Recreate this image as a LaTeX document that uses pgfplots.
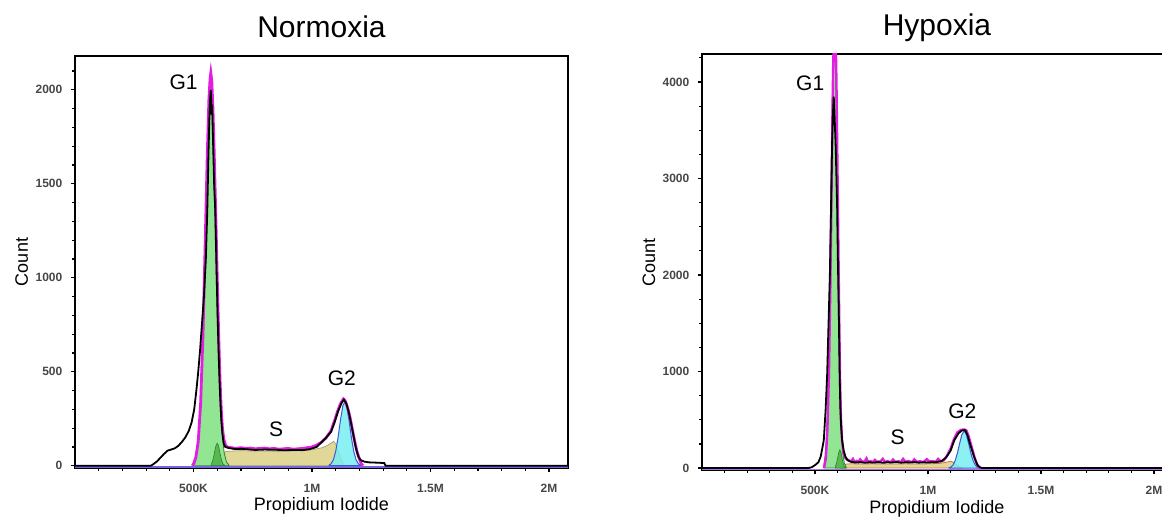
\documentclass[border=0pt]{standalone}
\usepackage{fontspec}
\setmainfont{Liberation Sans}
\usepackage{pgfplots}
\pgfplotsset{compat=1.18}

\definecolor{gfill}{RGB}{140,228,140}
\definecolor{gdraw}{RGB}{40,130,40}
\definecolor{dgfill}{RGB}{80,175,70}
\definecolor{sfill}{RGB}{222,212,140}
\definecolor{sdraw}{RGB}{200,120,60}
\definecolor{cfill}{RGB}{120,238,240}
\definecolor{cdraw}{RGB}{60,90,210}
\definecolor{mag}{RGB}{225,30,225}
\definecolor{baseL}{RGB}{115,100,230}
\definecolor{baseR}{RGB}{170,110,230}

\tikzset{pk/.style={font=\fontsize{10.5}{12}\selectfont}}
\pgfplotsset{
  flow/.style={
    scale only axis, axis line style={line width=1.1pt},
    tick align=outside, xtick pos=bottom, ytick pos=left,
    major tick length=2pt, minor tick length=1.4pt,
    every tick/.style={black,line width=0.6pt},
    xmin=0, xtick={500,1000,1500,2000}, xticklabels={500K,1M,1.5M,2M},
    minor xtick={100,200,300,400,600,700,800,900,1100,1200,1300,1400,1600,1700,1800,1900},
    ticklabel style={font=\fontsize{6}{7}\selectfont\bfseries, text=black!72},
    xticklabel style={yshift=-2.5pt},
    yticklabel style={xshift=-0.8pt},
    title style={at={(0.5,1)}, anchor=base, yshift=3pt, font=\fontsize{15}{18}\selectfont},
    xlabel style={at={(axis description cs:0.5,0)}, anchor=base, yshift=-21.5pt, font=\fontsize{9}{11}\selectfont},
    ylabel style={at={(axis description cs:0,0.5)}, anchor=base, yshift=23.5pt, font=\fontsize{9}{11}\selectfont},
    xlabel={Propidium Iodide}, ylabel={Count},
    every axis plot/.append style={sharp plot, no markers},
  },
}

\begin{document}
\begin{tikzpicture}
% Normoxia
\begin{axis}[flow, at={(0pt,0pt)}, width=246.5pt, height=206pt,
  xmax=2080, ymin=-12, ymax=2180,
  ytick={0,500,1000,1500,2000}, yticklabels={0,500,1000,1500,2000},
  minor ytick={100,200,300,400,600,700,800,900,1100,1200,1300,1400,1600,1700,1800,1900,2100},
  title={Normoxia}]
% S phase
\addplot[fill=sfill, fill opacity=0.9, draw=sfill!70!black, line width=0.3pt] coordinates {
(600,0) (615,30) (625,60) (635,76) (660,78) (700,80) (750,78) (800,78) (850,77) (900,78)
(950,80) (1000,85) (1040,95) (1060,105) (1080,120) (1092,130) (1100,115) (1110,80)
(1120,45) (1130,15) (1138,0)} \closedcycle;
% G1
\addplot[fill=gfill, fill opacity=0.95, draw=gdraw, line width=0.4pt] coordinates {
(505,20) (515,70) (525,209) (535,496) (545,960) (555,1513) (562,1840) (567,1988) (572,2040)
(577,1988) (582,1840) (589,1513) (599,960) (609,496) (619,209) (629,70) (639,20) (650,2)} \closedcycle;
% G1 doublet bump
\addplot[fill=dgfill, fill opacity=0.85, draw=gdraw, line width=0.3pt] coordinates {
(575,9) (580,23) (585,47) (590,80) (595,108) (600,120) (605,108) (610,80) (615,47)
(620,23) (625,9) (632,2)} \closedcycle;
% G2
\addplot[fill=cfill, fill opacity=0.85, draw=cdraw, line width=0.5pt] coordinates {
(1072,4) (1080,10) (1090,31) (1100,77) (1110,151) (1120,243) (1130,318) (1138,340)
(1146,318) (1156,243) (1166,151) (1176,77) (1186,31) (1196,10) (1204,4) (1210,1)} \closedcycle;
% fit baseline
\addplot[baseL, line width=0.8pt] coordinates {(0,-7) (2080,-7)};
% fit envelope
\addplot[mag, line width=1.4pt] coordinates {
(495,0) (502,15) (510,45) (520,130) (530,330) (540,700) (550,1220) (558,1650) (565,1950)
(570,2060) (573,2090) (577,2050) (582,1900) (587,1680) (592,1430) (597,1170) (602,900)
(607,660) (612,450) (617,300) (622,200) (628,140) (635,110) (645,98) (660,96) (680,92)
(700,96) (720,92) (740,94) (760,90) (780,92) (800,94) (820,90) (840,92) (860,88) (880,90)
(900,92) (920,88) (940,90) (960,92) (980,96) (1000,100) (1020,110) (1040,125) (1060,150)
(1080,185) (1095,240) (1108,290) (1120,330) (1132,355) (1140,345) (1150,310) (1160,260)
(1170,195) (1180,130) (1190,75) (1200,35) (1208,10) (1215,0)};
% raw histogram
\addplot[black, line width=0.9pt] coordinates {
(0,0) (320,0) (330,8) (345,22) (360,42) (375,62) (390,80) (405,86) (420,92) (435,105)
(450,125) (465,150) (480,185) (492,230) (503,300) (512,400) (520,500) (528,620) (536,760)
(544,900) (552,1100) (558,1350) (563,1650) (567,1850) (570,1950) (573,2000) (576,1890)
(579,1900) (583,1700) (587,1500) (592,1350) (597,1050) (602,780) (607,560) (612,380)
(617,250) (622,170) (627,120) (634,100) (650,94) (680,88) (700,90) (730,87) (760,84)
(800,86) (850,85) (880,82) (920,84) (960,83) (990,88) (1020,100) (1040,125) (1060,150)
(1080,180) (1095,230) (1110,290) (1125,335) (1135,352) (1145,330) (1155,285) (1165,225)
(1175,160) (1185,95) (1195,50) (1205,30) (1220,22) (1240,18) (1280,16) (1305,14) (1310,0)
(2080,0)};
\node[pk] at (axis cs:458,2040) {G1};
\node[pk] at (axis cs:849,192) {S};
\node[pk] at (axis cs:1126,468) {G2};
\end{axis}
% Hypoxia
\begin{axis}[flow, at={(313.5pt,-1.2pt)}, width=235pt, height=208.2pt,
  xmax=2080, ymin=-24, ymax=4290,
  ytick={0,1000,2000,3000,4000}, yticklabels={0,1000,2000,3000,4000},
  minor ytick={250,500,750,1250,1500,1750,2250,2500,2750,3250,3500,3750,4250},
  title={Hypoxia}]
% S phase
\addplot[fill=sfill, fill opacity=0.9, draw=sdraw, line width=0.4pt] coordinates {
(615,0) (625,25) (635,40) (660,45) (700,42) (750,44) (800,43) (850,42) (900,44) (950,42)
(1000,44) (1050,48) (1080,60) (1100,70) (1112,60) (1125,35) (1140,12) (1150,0)} \closedcycle;
% G1
\addplot[fill=gfill, fill opacity=0.95, draw=gdraw, line width=0.4pt] coordinates {
(540,50) (545,128) (550,296) (555,609) (560,1120) (565,1850) (570,2730) (575,3600)
(580,4257) (585,4500) (590,4257) (595,3600) (600,2730) (605,1850) (610,1120) (615,609)
(620,296) (625,128) (630,50) (638,10)} \closedcycle;
% G1 doublet bump
\addplot[fill=dgfill, fill opacity=0.85, draw=gdraw, line width=0.3pt] coordinates {
(590,16) (595,47) (600,102) (605,163) (610,190) (615,163) (620,102) (625,47) (630,16) (637,3)} \closedcycle;
% G2
\addplot[fill=cfill, fill opacity=0.85, draw=cdraw, line width=0.5pt] coordinates {
(1094,4) (1100,9) (1110,29) (1120,74) (1130,152) (1140,254) (1150,347) (1160,385)
(1170,347) (1180,254) (1190,152) (1200,74) (1210,29) (1220,9) (1226,4) (1232,0)} \closedcycle;
% fit baseline
\addplot[baseR, line width=0.8pt] coordinates {(0,-14) (2080,-14)};
% fit envelope
\addplot[mag, line width=1.2pt] coordinates {
(540,0) (548,100) (555,400) (562,1000) (568,1900) (573,2800) (577,3600) (580,4100)
(583,4400) (588,4500) (592,4400) (595,4000) (599,3200) (603,2400) (607,1600) (611,900)
(615,500) (620,280) (626,160) (633,110) (640,90) (650,80) (660,70) (668,95) (675,62)
(685,75) (692,60) (700,90) (710,65) (720,70) (728,100) (735,62) (745,72) (755,60) (765,85)
(775,65) (790,70) (800,95) (810,62) (820,72) (835,60) (845,88) (855,65) (870,70) (880,62)
(890,95) (900,66) (915,72) (930,60) (940,90) (950,65) (965,70) (980,62) (995,92) (1005,68)
(1020,72) (1035,65) (1045,95) (1055,70) (1070,80) (1085,130) (1100,200) (1115,300)
(1130,370) (1145,395) (1160,400) (1170,390) (1180,330) (1192,230) (1205,120) (1215,50)
(1225,10) (1232,0)};
% raw histogram
\addplot[black, line width=0.9pt] coordinates {
(0,0) (470,0) (485,8) (500,30) (515,60) (525,117) (532,200) (539,290) (547,600) (554,980)
(560,1500) (566,2017) (571,2700) (576,3398) (580,3700) (583,3847) (586,3700) (589,3500)
(592,3300) (595,3000) (598,2707) (601,2200) (605,1671) (609,1000) (612,635) (616,420)
(620,290) (627,180) (635,117) (645,80) (660,65) (680,58) (700,62) (720,55) (740,60)
(760,57) (780,62) (800,55) (820,60) (840,58) (860,62) (880,56) (900,60) (920,58) (940,62)
(960,56) (980,60) (1000,58) (1020,60) (1040,62) (1060,72) (1080,110) (1100,180) (1117,290)
(1135,360) (1150,390) (1165,392) (1175,340) (1190,221) (1205,110) (1219,31) (1230,8)
(1240,0) (2080,0)};
\node[pk] at (axis cs:479,3989) {G1};
\node[pk] at (axis cs:866,321) {S};
\node[pk] at (axis cs:1152,590) {G2};
\end{axis}
\pgfresetboundingbox
\path[use as bounding box] (-37.5pt,234pt) rectangle (543.5pt,-24.5pt);
\end{tikzpicture}
\end{document}
